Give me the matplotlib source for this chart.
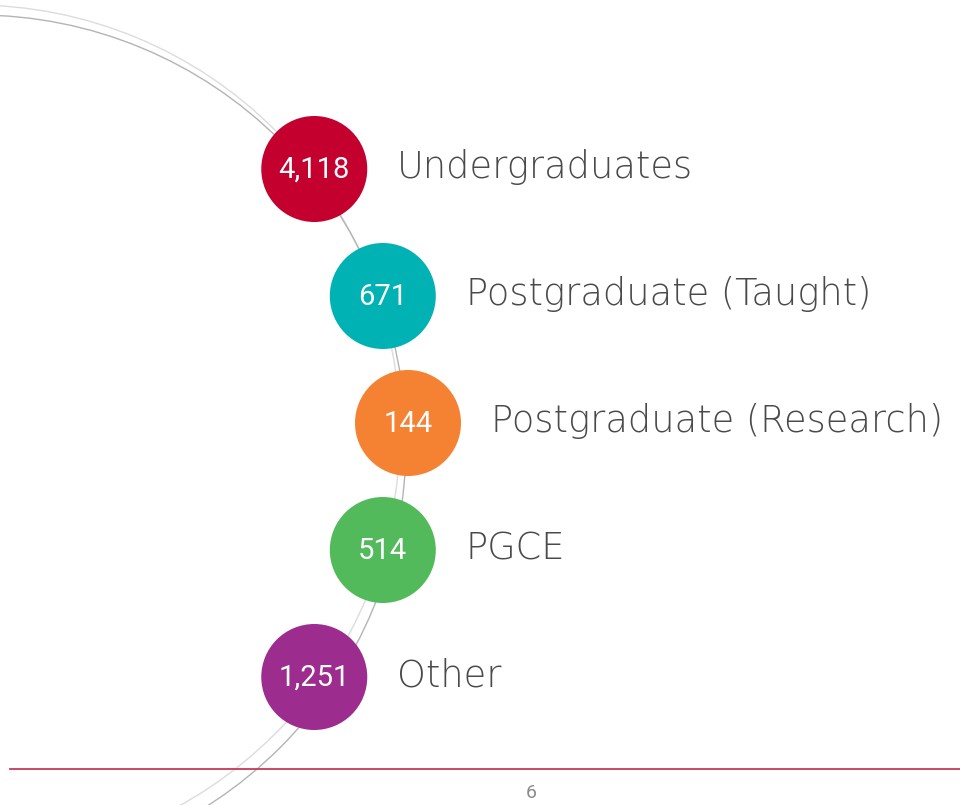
import numpy as np
import matplotlib
matplotlib.use("Agg")
import matplotlib.pyplot as plt
from matplotlib.patches import Circle, Arc

categories = ["Undergraduates", "Postgraduate (Taught)", "Postgraduate (Research)", "PGCE", "Other"]
values = [4118, 671, 144, 514, 1251]
colors = ["#C4002F", "#00B2B4", "#F58233", "#52BA5B", "#9D2C8F"]
page_number = "6"

W, H = 960, 805
fig = plt.figure(figsize=(W / 100, H / 100), dpi=100)
ax = fig.add_axes([0, 0, 1, 1])
ax.set_xlim(0, W)
ax.set_ylim(H, 0)
ax.axis("off")

# background arcs (two thin arcs)
for (cx, cy, r, col, lw) in [(-27, 432, 427, "#dcdcdc", 1.0), (-23, 444, 429, "#b4b4b4", 1.0)]:
    ax.add_patch(Arc((cx, cy), 2 * r, 2 * r, theta1=-90, theta2=90, color=col, lw=lw, zorder=1))

# bubble layout along the arc
n = len(categories)
mid = 423
step = 127
gc_x, gc_r = 17, 391
rad = 53
for i, (cat, val, col) in enumerate(zip(categories, values, colors)):
    y = mid + (i - (n - 1) / 2) * step
    x = gc_x + np.sqrt(gc_r ** 2 - (y - mid) ** 2)
    if 0 < abs(i - (n - 1) / 2) < 1.5:
        x -= 4
    ax.add_patch(Circle((x, y), rad, color=col, zorder=3, lw=0))
    ax.text(x, y + 1, f"{val:,}", color="white", fontsize=21, ha="center", va="center",
            family="Roboto", zorder=4)
    ax.text(x + 83, y - 2, cat, color="#4a4a4a", fontsize=26.5, ha="left", va="center",
            family="DejaVu Sans", fontweight="light", zorder=4)

# footer line and page number
ax.plot([10, W], [769, 769], color="#C8385A", lw=1.3, zorder=2)
ax.text(531, 793, page_number, color="#8a8a8a", fontsize=14, ha="center", va="center", family="Roboto")

fig.savefig("out.png", dpi=100)
